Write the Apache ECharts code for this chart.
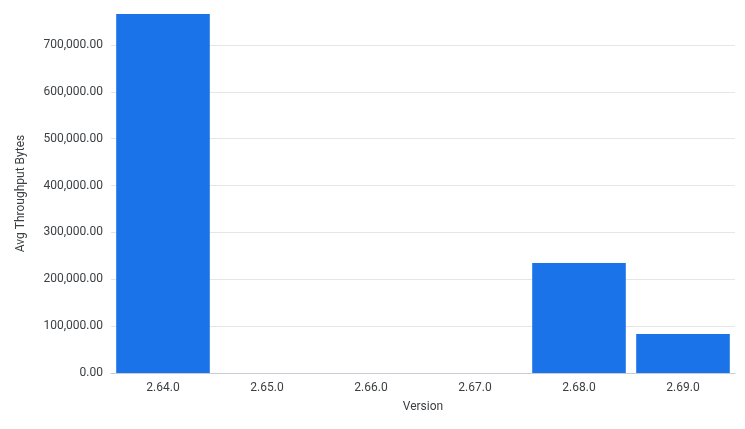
<!DOCTYPE html>
<html>
<head>
<meta charset="utf-8">
<script src="https://cdn.jsdelivr.net/npm/echarts@6/dist/echarts.min.js"></script>
<style>
  html, body { margin: 0; padding: 0; background: #fff; }
  #chart { width: 745px; height: 429px; }
</style>
</head>
<body>
<div id="chart"></div>
<script>
// versions and their average throughput
var versions = ['2.64.0', '2.65.0', '2.66.0', '2.67.0', '2.68.0', '2.69.0']
var throughput = [766000, 0, 0, 0, 234700, 83200]
var yMax = 766000

var textColor = '#3c4043'

var chart = echarts.init(document.getElementById('chart'))
chart.setOption({
  animation: false,
  textStyle: { fontFamily: 'Roboto' },
  grid: { left: 111, right: 10, top: 14, bottom: 56 },
  xAxis: {
    type: 'category',
    data: versions,
    name: 'Version',
    nameLocation: 'middle',
    nameGap: 28,
    nameTextStyle: { color: textColor, fontSize: 12 },
    axisLine: { lineStyle: { color: '#c8ccd6' } },
    axisTick: { show: false },
    axisLabel: { color: textColor, fontSize: 12, margin: 9 }
  },
  yAxis: {
    type: 'value',
    min: 0,
    max: yMax,
    interval: 100000,
    name: 'Avg Throughput Bytes',
    nameLocation: 'middle',
    nameGap: 84,
    nameTextStyle: { color: textColor, fontSize: 12 },
    axisLine: { show: false },
    axisTick: { show: false },
    splitLine: { showMaxLine: false, lineStyle: { color: '#e6e6e6' } },
    axisLabel: {
      color: textColor,
      fontSize: 12,
      margin: 8,
      showMaxLabel: false,
      formatter: function (v) {
        if (v % 100000 !== 0) return ''
        return v.toLocaleString('en-US', { minimumFractionDigits: 2, maximumFractionDigits: 2 })
      }
    }
  },
  series: [{
    type: 'bar',
    data: throughput,
    barCategoryGap: '10%',
    itemStyle: { color: '#1a73e8' }
  }]
})
</script>
</body>
</html>
